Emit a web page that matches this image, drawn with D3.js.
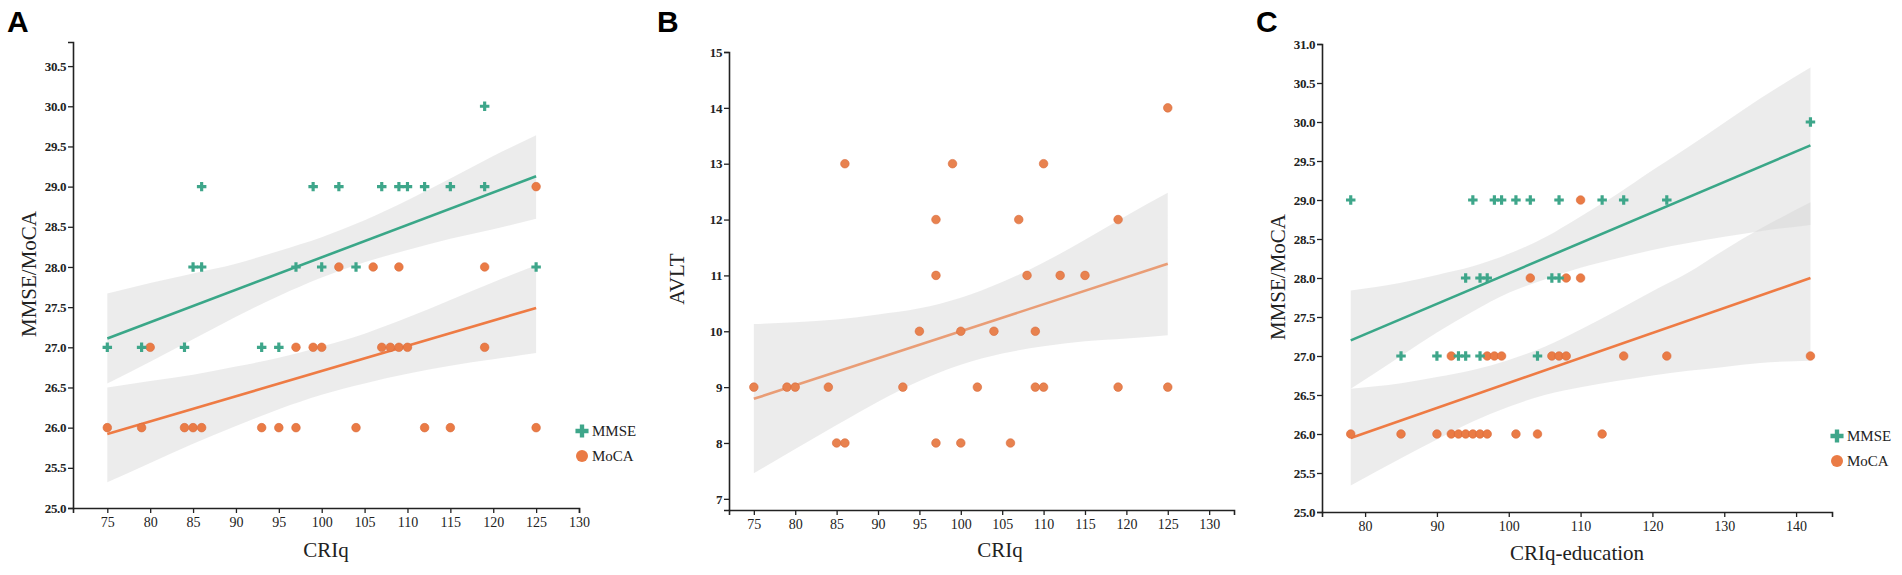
<!DOCTYPE html>
<html lang="en">
<head>
  <meta charset="UTF-8">
  <title>CRIq scatter</title>
  <style>
    body { margin: 0; background: #fff; }
    .tick text { font-family: 'Liberation Serif', 'Times New Roman', serif; fill: #222; }
  </style>
</head>
<body>
  <script src="https://d3js.org/d3.v7.min.js"></script>
  <script>
    // panel A: CRIq vs MMSE / MoCA  [CRIq, score]
    const aMMSE = [
      [119, 30], [86, 29], [99, 29], [102, 29], [107, 29], [109, 29], [110, 29], [112, 29], [115, 29], [119, 29],
      [85, 28], [86, 28], [97, 28], [100, 28], [104, 28], [125, 28],
      [75, 27], [79, 27], [84, 27], [93, 27], [95, 27]
    ]
    const aMoCA = [
      [125, 29], [102, 28], [106, 28], [109, 28], [119, 28],
      [80, 27], [97, 27], [99, 27], [100, 27], [107, 27], [108, 27], [109, 27], [110, 27], [119, 27],
      [75, 26], [79, 26], [84, 26], [85, 26], [86, 26], [93, 26], [95, 26], [97, 26], [104, 26], [112, 26], [115, 26], [125, 26]
    ]
    const aFitMMSE = [[75, 27.11], [125, 29.13]]
    const aFitMoCA = [[75, 25.92], [125, 27.49]]
    // [x, lower, upper]
    const aBandMMSE = [[75, 26.55, 27.67], [80, 26.82, 27.80], [85, 27.10, 27.92], [90, 27.38, 28.04], [95, 27.64, 28.20], [100, 27.87, 28.37],
      [105, 28.06, 28.58], [110, 28.21, 28.83], [115, 28.35, 29.10], [120, 28.47, 29.38], [125, 28.60, 29.64]]
    const aBandMoCA = [[75, 25.32, 26.50], [80, 25.56, 26.58], [85, 25.80, 26.66], [90, 26.02, 26.76], [95, 26.23, 26.87], [100, 26.41, 27.01],
      [105, 26.55, 27.17], [110, 26.67, 27.37], [115, 26.77, 27.59], [120, 26.85, 27.81], [125, 26.93, 28.02]]

    // panel B: CRIq vs AVLT
    const bAVLT = [
      [125, 14], [86, 13], [99, 13], [110, 13], [97, 12], [107, 12], [119, 12],
      [97, 11], [108, 11], [112, 11], [115, 11], [95, 10], [100, 10], [104, 10], [109, 10],
      [75, 9], [79, 9], [80, 9], [84, 9], [93, 9], [102, 9], [109, 9], [110, 9], [119, 9], [125, 9],
      [85, 8], [86, 8], [97, 8], [100, 8], [106, 8]
    ]
    const bFit = [[75, 8.79], [125, 11.21]]
    const bBand = [[75, 7.46, 10.13], [80, 7.89, 10.16], [85, 8.32, 10.21], [90, 8.74, 10.30], [95, 9.11, 10.41], [100, 9.40, 10.60],
      [105, 9.60, 10.88], [110, 9.73, 11.23], [115, 9.82, 11.64], [120, 9.87, 12.07], [125, 9.93, 12.48]]

    // panel C: CRIq-education vs MMSE / MoCA
    const cMMSE = [
      [142, 30], [78, 29], [95, 29], [98, 29], [99, 29], [101, 29], [103, 29], [107, 29], [113, 29], [116, 29], [122, 29],
      [94, 28], [96, 28], [97, 28], [106, 28], [107, 28],
      [85, 27], [90, 27], [93, 27], [94, 27], [96, 27], [104, 27]
    ]
    const cMoCA = [
      [110, 29], [103, 28], [108, 28], [110, 28],
      [92, 27], [97, 27], [98, 27], [99, 27], [106, 27], [107, 27], [108, 27], [116, 27], [122, 27], [142, 27],
      [78, 26], [85, 26], [90, 26], [92, 26], [93, 26], [94, 26], [95, 26], [96, 26], [97, 26], [101, 26], [104, 26], [113, 26]
    ]
    const cFitMMSE = [[78, 27.2], [142, 29.7]]
    const cFitMoCA = [[78, 25.95], [142, 28.0]]
    const cBandMMSE = [[78, 26.58, 27.84], [85, 27.0, 27.94], [90, 27.30, 28.04], [95, 27.57, 28.15], [100, 27.81, 28.31], [105, 27.98, 28.52],
      [110, 28.13, 28.79], [115, 28.25, 29.07], [120, 28.36, 29.38], [125, 28.45, 29.68], [130, 28.53, 29.99], [135, 28.60, 30.30], [142, 28.68, 30.70]]
    const cBandMoCA = [[78, 25.34, 26.58], [85, 25.69, 26.65], [90, 25.93, 26.73], [95, 26.16, 26.82], [100, 26.35, 26.95], [105, 26.50, 27.12],
      [110, 26.60, 27.34], [115, 26.68, 27.58], [120, 26.75, 27.83], [125, 26.81, 28.07], [130, 26.86, 28.36], [135, 26.91, 28.63], [142, 26.94, 28.97]]

    const aXTicks = d3.range(75, 131, 5)
    const aYTicks = d3.range(25, 30.51, 0.5)
    const bXTicks = d3.range(75, 131, 5)
    const bYTicks = d3.range(7, 15.1, 1)
    const cXTicks = d3.range(80, 141, 10)
    const cYTicks = d3.range(25, 31.01, 0.5)

    const green = '#3ea68a'
    const orange = '#ea7b45'
    const serif = "'Liberation Serif', 'Times New Roman', serif"

    const svg = d3.select('body')
      .append('svg')
      .attr('width', 1902)
      .attr('height', 575)

    function panel(opt) {
      const x = d3.scaleLinear().domain(opt.xDomain).range([opt.left, opt.right])
      const y = d3.scaleLinear().domain(opt.yDomain).range([opt.bottom, opt.top])
      const g = svg.append('g')

      const area = d3.area()
        .x(d => x(d[0]))
        .y0(d => y(d[1]))
        .y1(d => y(d[2]))
        .curve(d3.curveMonotoneX)
      const line = d3.line().x(d => x(d[0])).y(d => y(d[1]))

      opt.series.forEach(s => {
        g.append('path')
          .datum(s.band)
          .attr('d', area)
          .attr('fill', '#d4d4d4')
          .attr('fill-opacity', 0.45)
      })
      opt.series.forEach(s => {
        g.append('path')
          .datum(s.fit)
          .attr('d', line)
          .attr('stroke', s.lineColor)
          .attr('stroke-width', 2.6)
          .attr('fill', 'none')
      })
      opt.series.forEach(s => {
        const pts = g.append('g')
        if (s.shape === 'cross') {
          pts.selectAll('path')
            .data(s.points)
            .enter()
            .append('path')
            .attr('transform', d => `translate(${x(d[0])},${y(d[1])})`)
            .attr('d', d3.symbol(d3.symbolCross, 50))
            .attr('fill', s.color)
        } else {
          pts.selectAll('circle')
            .data(s.points)
            .enter()
            .append('circle')
            .attr('cx', d => x(d[0]))
            .attr('cy', d => y(d[1]))
            .attr('r', 4.3)
            .attr('fill', s.color)
            .attr('stroke', '#d9693a')
            .attr('stroke-width', 0.6)
        }
      })

      const xAxis = g.append('g')
        .attr('transform', `translate(0,${opt.bottom})`)
        .call(d3.axisBottom(x).tickValues(opt.xTicks).tickSizeOuter(0).tickSize(5).tickPadding(4))
      xAxis.selectAll('text').attr('font-size', 14)

      const yAxis = g.append('g')
        .attr('transform', `translate(${opt.left},0)`)
        .call(d3.axisLeft(y).tickValues(opt.yTicks).tickFormat(d3.format(opt.yFormat)).tickSizeOuter(0).tickSize(5).tickPadding(2))
      yAxis.selectAll('text').attr('font-size', 13).attr('font-weight', 'bold').attr('letter-spacing', -0.4)

      g.selectAll('.domain').attr('stroke', '#222').attr('stroke-width', 1.6)
      g.selectAll('.tick line').attr('stroke', '#222').attr('stroke-width', 1.3)

      g.append('text')
        .attr('x', opt.xTitle[1])
        .attr('y', opt.xTitle[2])
        .attr('text-anchor', 'middle')
        .attr('font-family', serif)
        .attr('font-size', 21)
        .attr('fill', '#222')
        .text(opt.xTitle[0])

      g.append('text')
        .attr('transform', `translate(${opt.yTitle[1]},${opt.yTitle[2]}) rotate(-90)`)
        .attr('text-anchor', 'middle')
        .attr('dominant-baseline', 'central')
        .attr('font-family', serif)
        .attr('font-size', 21)
        .attr('fill', '#222')
        .text(opt.yTitle[0])

      g.append('text')
        .attr('x', opt.letter[1])
        .attr('y', 32)
        .attr('font-family', "'Liberation Sans', Arial, sans-serif")
        .attr('font-weight', 'bold')
        .attr('font-size', 30)
        .attr('fill', '#000')
        .text(opt.letter[0])

      if (opt.legend) {
        const [lx, ly] = opt.legend
        const lg = g.append('g').attr('transform', `translate(${lx},${ly})`)
        lg.append('path')
          .attr('d', d3.symbol(d3.symbolCross, 95))
          .attr('fill', green)
        lg.append('circle')
          .attr('cy', 25)
          .attr('r', 6)
          .attr('fill', orange)
        lg.selectAll('text')
          .data(['MMSE', 'MoCA'])
          .enter()
          .append('text')
          .attr('x', 10)
          .attr('y', (d, i) => i * 25)
          .attr('dominant-baseline', 'central')
          .attr('font-family', serif)
          .attr('font-size', 15)
          .attr('fill', '#222')
          .text(d => d)
      }
    }

    panel({
      left: 73, right: 579, top: 42, bottom: 508,
      xDomain: [71, 130], yDomain: [25, 30.8],
      xTicks: aXTicks, yTicks: aYTicks, yFormat: '.1f',
      xTitle: ['CRIq', 326, 557], yTitle: ['MMSE/MoCA', 29, 274], letter: ['A', 7],
      legend: [582, 431],
      series: [
        { points: aMoCA, fit: aFitMoCA, band: aBandMoCA, color: orange, lineColor: '#ee7b44', shape: 'circle' },
        { points: aMMSE, fit: aFitMMSE, band: aBandMMSE, color: green, lineColor: '#3aa788', shape: 'cross' }
      ]
    })

    panel({
      left: 729, right: 1234, top: 52, bottom: 510,
      xDomain: [72, 133], yDomain: [6.8, 15],
      xTicks: bXTicks, yTicks: bYTicks, yFormat: 'd',
      xTitle: ['CRIq', 1000, 557], yTitle: ['AVLT', 677, 279], letter: ['B', 657],
      series: [
        { points: bAVLT, fit: bFit, band: bBand, color: '#e8824f', lineColor: '#e99d76', shape: 'circle' }
      ]
    })

    panel({
      left: 1322, right: 1832, top: 44, bottom: 512,
      xDomain: [74, 145], yDomain: [25, 31],
      xTicks: cXTicks, yTicks: cYTicks, yFormat: '.1f',
      xTitle: ['CRIq-education', 1577, 560], yTitle: ['MMSE/MoCA', 1278, 277], letter: ['C', 1256],
      legend: [1837, 436],
      series: [
        { points: cMoCA, fit: cFitMoCA, band: cBandMoCA, color: orange, lineColor: '#ee7b44', shape: 'circle' },
        { points: cMMSE, fit: cFitMMSE, band: cBandMMSE, color: green, lineColor: '#3aa788', shape: 'cross' }
      ]
    })
  </script>
</body>
</html>
